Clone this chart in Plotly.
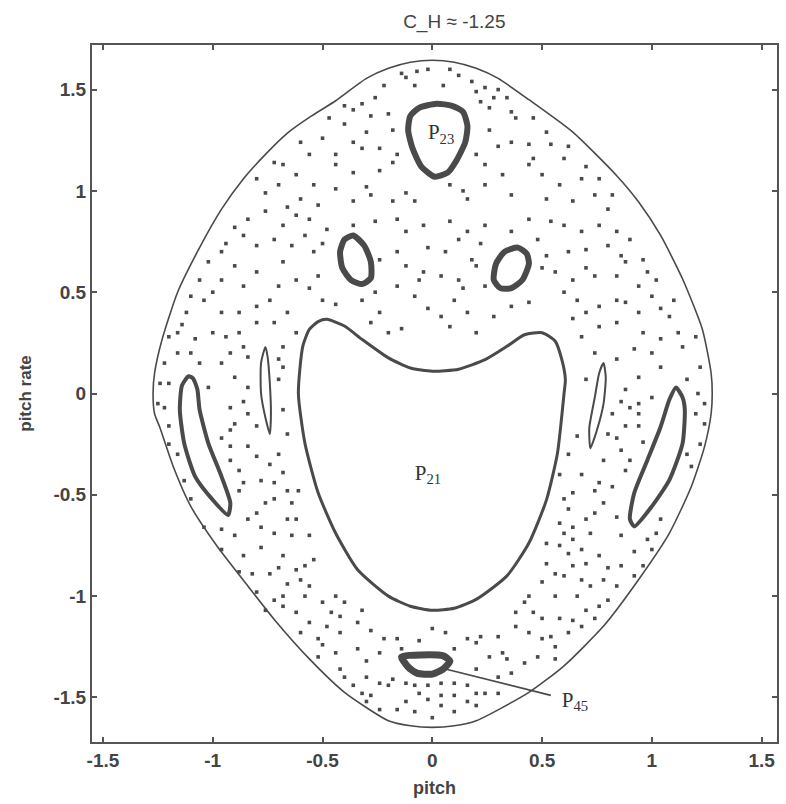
import plotly.graph_objects as go

# ---------------- data (pitch, pitch rate) ----------------
boundary_pitch = [0.0, -0.1, -0.2, -0.3, -0.44, -0.55, -0.66, -0.76, -0.86, -0.96, -1.06, -1.16, -1.23, -1.265,
                  -1.272, -1.265, -1.24, -1.18, -1.10, -0.98, -0.84, -0.72, -0.56, -0.40, -0.20, -0.10, 0.0,
                  0.10, 0.20, 0.44, 0.60, 0.78, 0.94, 1.08, 1.18, 1.24, 1.27, 1.275, 1.27, 1.23, 1.14, 1.04,
                  0.94, 0.84, 0.64, 0.44, 0.30, 0.20, 0.10, 0.0]
boundary_rate = [1.645, 1.635, 1.605, 1.555, 1.445, 1.37, 1.285, 1.18, 1.06, 0.91, 0.72, 0.50, 0.27, 0.10,
                 0.0, -0.10, -0.17, -0.36, -0.557, -0.754, -0.95, -1.115, -1.31, -1.475, -1.615, -1.64, -1.648,
                 -1.64, -1.615, -1.475, -1.344, -1.148, -0.918, -0.689, -0.459, -0.262, -0.10, 0.0, 0.10, 0.317, 0.565, 0.78,
                 0.945, 1.075, 1.29, 1.45, 1.555, 1.605, 1.635, 1.645]

p21_pitch = [0.0, 0.12, 0.24, 0.34, 0.42, 0.50, 0.56, 0.59, 0.606, 0.60, 0.57, 0.52, 0.44, 0.34, 0.20, 0.10,
             0.0, -0.10, -0.20, -0.34, -0.44, -0.52, -0.58, -0.61, -0.59, -0.56, -0.52, -0.48, -0.40, -0.32,
             -0.20, -0.10, 0.0]
p21_rate = [0.11, 0.12, 0.167, 0.233, 0.29, 0.30, 0.258, 0.167, 0.068, 0.0, -0.295, -0.525, -0.738, -0.90,
            -1.016, -1.06, -1.07, -1.05, -1.0, -0.87, -0.69, -0.49, -0.246, 0.0, 0.233, 0.316, 0.355, 0.366,
            0.333, 0.267, 0.176, 0.126, 0.11]

p23_pitch = [0.02, -0.06, -0.10, -0.11, -0.09, -0.05, 0.01, 0.07, 0.11, 0.15, 0.16, 0.14, 0.09, 0.02]
p23_rate = [1.43, 1.41, 1.37, 1.30, 1.21, 1.12, 1.07, 1.09, 1.15, 1.24, 1.32, 1.39, 1.42, 1.43]

isl_ul_pitch = [-0.36, -0.40, -0.42, -0.41, -0.37, -0.32, -0.28, -0.28, -0.31, -0.36]
isl_ul_rate = [0.78, 0.76, 0.70, 0.62, 0.56, 0.54, 0.57, 0.65, 0.73, 0.78]

isl_ur_pitch = [0.39, 0.43, 0.44, 0.41, 0.36, 0.31, 0.28, 0.29, 0.33, 0.39]
isl_ur_rate = [0.72, 0.69, 0.64, 0.56, 0.52, 0.52, 0.56, 0.64, 0.70, 0.72]

isl_l_pitch = [-1.11, -1.14, -1.15, -1.13, -1.08, -1.00, -0.93, -0.92, -0.96, -1.02, -1.06, -1.07, -1.09, -1.11]
isl_l_rate = [0.085, 0.04, -0.08, -0.246, -0.41, -0.525, -0.60, -0.54, -0.41, -0.246, -0.08, 0.02, 0.075, 0.085]

isl_r_pitch = [1.11, 1.14, 1.15, 1.14, 1.08, 1.00, 0.92, 0.90, 0.92, 0.98, 1.04, 1.08, 1.11]
isl_r_rate = [0.03, -0.02, -0.08, -0.246, -0.426, -0.557, -0.656, -0.62, -0.49, -0.328, -0.164, -0.03, 0.03]

thin_l_pitch = [-0.76, -0.78, -0.78, -0.76, -0.74, -0.735, -0.74, -0.75, -0.76]
thin_l_rate = [0.23, 0.15, 0.0, -0.12, -0.20, -0.10, 0.05, 0.18, 0.23]

thin_r_pitch = [0.78, 0.79, 0.78, 0.75, 0.72, 0.715, 0.74, 0.76, 0.78]
thin_r_rate = [0.15, 0.08, -0.05, -0.18, -0.27, -0.17, -0.02, 0.10, 0.15]

p45_pitch = [-0.14, -0.05, 0.05, 0.08, 0.05, 0.0, -0.07, -0.11, -0.14]
p45_rate = [-1.30, -1.29, -1.295, -1.32, -1.36, -1.385, -1.38, -1.35, -1.30]

p45_pointer_pitch = [0.06, 0.54]
p45_pointer_rate = [-1.36, -1.49]

sea_points = [
    (-0.14, 1.58), (-0.12, 1.56), (-0.07, 1.59), (-0.08, 1.52), (0.05, 1.52), (0.12, 1.57), (0.18, 1.54),
    (0.24, 1.51), (0.30, 1.50), (0.20, 1.49), (-0.26, 1.46), (-0.32, 1.43), (-0.36, 1.40), (-0.28, 1.37),
    (-0.20, 1.38), (-0.47, 1.36), (-0.40, 1.33), (-0.36, 1.24), (-0.30, 1.29), (-0.24, 1.21), (-0.32, 1.21),
    (-0.44, 1.18), (-0.56, 1.18), (-0.68, 1.13), (-0.62, 1.08), (-0.70, 1.03), (-0.76, 0.99), (-0.54, 1.03),
    (-0.44, 1.13), (-0.36, 1.09), (-0.18, 1.14), (-0.16, 1.18), (0.20, 1.18), (0.24, 1.13), (0.26, 1.41),
    (0.28, 1.46), (0.36, 1.39), (0.38, 1.36), (0.46, 1.36), (0.52, 1.29), (0.54, 1.23), (0.44, 1.23),
    (0.36, 1.24), (0.60, 1.16), (0.46, 1.16), (0.44, 1.13), (0.68, 1.06), (0.58, 1.03), (0.64, 0.95),
    (0.52, 0.96), (0.36, 0.98), (0.24, 1.03), (0.16, 0.96), (0.08, 1.03), (-0.12, 0.99), (-0.08, 0.95),
    (-0.18, 0.95), (-0.28, 0.98), (-0.44, 1.01), (-0.36, 0.95), (-0.52, 0.93), (-0.56, 0.86), (-0.62, 0.88),
    (-0.68, 0.83), (-0.76, 0.90), (-0.84, 0.86), (-0.86, 0.78), (-0.72, 0.76), (-0.80, 0.73), (-0.64, 0.73),
    (-0.54, 0.70), (-0.48, 0.81), (-0.36, 0.83), (-0.26, 0.85), (-0.16, 0.86), (-0.12, 0.80), (-0.04, 0.83),
    (0.08, 0.85), (0.16, 0.80), (0.24, 0.83), (0.36, 0.80), (0.44, 0.86), (0.54, 0.85), (0.60, 0.83),
    (0.68, 0.80), (0.76, 0.83), (0.80, 0.91), (0.74, 0.98), (0.84, 0.80), (0.90, 0.76), (0.96, 0.66),
    (0.88, 0.65), (0.80, 0.73), (0.70, 0.71), (0.62, 0.70), (0.52, 0.68), (0.56, 0.60), (0.64, 0.56),
    (0.74, 0.58), (0.84, 0.58), (0.94, 0.53), (1.02, 0.56), (1.10, 0.46), (1.04, 0.42), (0.94, 0.40),
    (0.84, 0.46), (0.76, 0.43), (0.66, 0.46), (0.64, 0.37), (0.76, 0.33), (0.84, 0.35), (0.96, 0.30),
    (1.04, 0.27), (1.14, 0.23), (1.20, 0.28), (1.22, 0.13), (1.16, 0.07), (1.04, 0.13), (0.94, 0.08),
    (0.84, 0.17), (0.74, 0.20), (0.70, 0.07), (0.88, 0.02),
    (-0.24, 0.66), (-0.16, 0.70), (-0.12, 0.63), (-0.04, 0.60), (0.04, 0.58), (0.12, 0.56), (0.20, 0.63),
    (0.18, 0.66), (0.24, 0.53), (-0.16, 0.53), (-0.08, 0.48), (-0.26, 0.50), (-0.32, 0.46), (-0.24, 0.40),
    (-0.28, 0.35), (-0.02, 0.42), (0.04, 0.38), (0.10, 0.46), (0.08, 0.33), (0.16, 0.40), (0.28, 0.38),
    (0.36, 0.43), (0.44, 0.45), (-0.14, 0.32),
    (-0.96, 0.70), (-1.02, 0.65), (-1.06, 0.56), (-0.90, 0.63), (-0.96, 0.56), (-0.86, 0.53), (-0.80, 0.60),
    (-0.68, 0.65), (-0.62, 0.56), (-0.52, 0.58), (-0.70, 0.53), (-0.74, 0.46), (-0.80, 0.43), (-0.88, 0.40),
    (-0.96, 0.40), (-1.04, 0.46), (-1.12, 0.40), (-1.16, 0.30), (-1.08, 0.27), (-1.00, 0.30), (-0.88, 0.30),
    (-0.80, 0.35), (-0.72, 0.35), (-0.66, 0.40), (-0.62, 0.30), (-0.68, 0.23), (-0.70, 0.17), (-0.86, 0.23),
    (-0.96, 0.15), (-1.06, 0.15), (-1.16, 0.20), (-1.22, 0.15), (-1.20, 0.05), (-1.02, 0.03), (-0.90, 0.08),
    (-0.84, 0.03), (-0.70, 0.07), (-0.68, 0.13),
    (-1.25, -0.05), (-1.20, -0.25), (-1.22, -0.07), (-0.92, -0.07), (-0.92, -0.18), (-0.90, -0.15),
    (-0.84, -0.10), (-0.80, -0.16), (-0.92, -0.26), (-0.84, -0.26), (-0.80, -0.31), (-0.74, -0.35),
    (-0.92, -0.33), (-0.88, -0.38), (-1.13, -0.43), (-1.10, -0.52), (-1.04, -0.66), (-0.96, -0.67),
    (-0.68, -0.39), (-0.78, -0.43), (-0.72, -0.44), (-0.66, -0.48), (-0.61, -0.48), (-0.64, -0.54),
    (-0.76, -0.54), (-0.72, -0.52), (-0.84, -0.62), (-0.80, -0.59), (-0.78, -0.66), (-0.72, -0.69),
    (-0.64, -0.70), (-0.56, -0.70), (-0.66, -0.62), (-0.68, -0.80), (-0.86, -0.80), (-0.96, -0.77),
    (-0.82, -0.89), (-0.74, -0.89), (-0.62, -0.87), (-0.60, -0.92), (-0.56, -0.95), (-0.54, -0.82),
    (-0.58, -0.85), (-0.68, -1.00), (-0.72, -1.02), (-0.80, -0.98), (-0.76, -1.07), (-0.68, -1.05),
    (-0.58, -1.00), (-0.50, -1.03), (-0.44, -1.00), (-0.40, -1.03), (-0.46, -1.08), (-0.42, -1.10),
    (-0.32, -1.07), (-0.34, -1.13), (-0.56, -1.13), (-0.60, -1.18), (-0.52, -1.21), (-0.48, -1.15),
    (-0.42, -1.18), (-0.28, -1.17), (-0.22, -1.21), (-0.16, -1.21), (-0.34, -1.26), (-0.42, -1.36),
    (-0.52, -1.30),
    (-0.36, -1.44), (-0.32, -1.48), (-0.28, -1.49), (-0.24, -1.43), (-0.20, -1.44), (-0.18, -1.41),
    (-0.12, -1.43), (-0.08, -1.44), (-0.02, -1.44), (0.04, -1.43), (0.10, -1.43), (0.16, -1.44),
    (0.20, -1.48), (0.24, -1.48), (0.10, -1.49), (0.04, -1.49), (-0.02, -1.51), (-0.06, -1.48),
    (-0.16, -1.56), (-0.08, -1.57), (0.04, -1.54), (0.10, -1.57), (0.20, -1.54), (-0.24, -1.56),
    (0.20, -1.36), (0.06, -1.18), (0.16, -1.21), (0.20, -1.23), (0.22, -1.20), (0.32, -1.28),
    (0.34, -1.31), (0.42, -1.33), (0.30, -1.20), (0.38, -1.15), (0.44, -1.18), (0.50, -1.21),
    (0.54, -1.20), (0.56, -1.25), (0.48, -1.30), (0.56, -1.31), (0.62, -1.18), (0.68, -1.15),
    (0.74, -1.11), (0.70, -1.07), (0.66, -1.00), (0.76, -1.05), (0.78, -0.92), (0.72, -0.95),
    (0.68, -0.92), (0.64, -0.85), (0.60, -0.90), (0.56, -0.89), (0.52, -0.84), (0.50, -0.93),
    (0.44, -1.00), (0.42, -1.03), (0.38, -1.08), (0.46, -1.08), (0.50, -1.11), (0.58, -1.11),
    (0.60, -0.52), (0.64, -0.49), (0.62, -0.57), (0.58, -0.64), (0.60, -0.69), (0.64, -0.66),
    (0.70, -0.62), (0.74, -0.59), (0.72, -0.69), (0.64, -0.72), (0.58, -0.75), (0.52, -0.74),
    (0.62, -0.79), (0.68, -0.77), (0.76, -0.80), (0.86, -0.85), (0.92, -0.90), (0.84, -0.95),
    (0.80, -1.02), (0.96, -0.85), (1.00, -0.77), (1.02, -0.69), (0.98, -0.72), (0.84, -0.61),
    (0.78, -0.54), (0.74, -0.48), (0.76, -0.44), (0.88, -0.38), (0.90, -0.33), (0.78, -0.33),
    (0.86, -0.28), (0.66, -0.21), (0.80, -0.20), (0.88, -0.16), (0.94, -0.16), (0.82, -0.10),
    (0.90, -0.07), (0.94, -0.05), (1.00, -0.02), (0.94, -0.10), (1.24, -0.15), (1.22, -0.25),
    (1.16, -0.30), (1.24, -0.05),
    # further dots estimated in the denser parts of the chaotic sea
    (-0.02, 1.60), (0.08, 1.60), (-0.22, 1.52), (0.34, 1.46), (0.22, 1.44), (-0.40, 1.42), (-0.18, 1.30),
    (0.26, 1.30), (0.30, 1.22), (-0.24, 1.10), (0.14, 1.00), (0.32, 1.08), (-0.30, 1.02), (0.50, 1.08),
    (0.62, 1.22), (0.70, 1.12), (-0.60, 1.24), (-0.50, 1.26), (-0.72, 1.14), (-0.80, 1.06), (0.76, 1.06),
    (0.82, 0.98), (-0.60, 0.96), (-0.66, 0.92), (-0.90, 0.82), (-0.94, 0.74), (-0.58, 0.78), (-0.50, 0.74),
    (-0.02, 0.72), (0.06, 0.70), (0.12, 0.76), (0.22, 0.74), (0.48, 0.76), (0.50, 0.62), (0.60, 0.50),
    (0.70, 0.62), (0.86, 0.68), (0.98, 0.60), (1.00, 0.48), (1.08, 0.38), (1.12, 0.30), (0.92, 0.22),
    (1.00, 0.20), (0.68, 0.28), (0.70, 0.40), (0.88, 0.45), (-0.50, 0.46), (-0.44, 0.44), (-0.56, 0.52),
    (-0.20, 0.30), (0.20, 0.30), (0.14, 0.52), (-0.06, 0.56),
    (-1.00, 0.50), (-1.10, 0.48), (-1.14, 0.34), (-1.20, 0.28), (-0.94, 0.28), (-0.84, 0.18), (-0.92, 0.20),
    (-1.10, 0.20), (-1.24, 0.05), (-0.86, -0.04), (-0.96, -0.22), (-0.86, -0.44), (-0.88, -0.48),
    (-1.16, -0.30), (-1.20, -0.16), (-0.70, -0.30), (-0.66, -0.20), (-0.68, -0.08), (-0.62, -0.62),
    (-0.90, -0.70), (-0.78, -0.76), (-0.70, -0.86), (-0.88, -0.88), (-0.66, -0.94),
    (-0.62, -1.08), (-0.50, -1.24), (-0.44, -1.28), (-0.30, -1.32), (-0.24, -1.28), (-0.14, -1.26),
    (-0.06, -1.22), (0.00, -1.16), (0.10, -1.26), (0.26, -1.30), (0.30, -1.40), (0.36, -1.38),
    (-0.40, -1.40), (-0.30, -1.40), (-0.12, -1.52), (0.16, -1.52), (0.00, -1.60), (-0.30, -1.52),
    (0.30, -1.48),
    (0.58, -0.40), (0.62, -0.30), (0.68, -0.40), (0.82, -0.46), (0.86, -0.70), (0.92, -0.78), (0.80, -0.86),
    (0.70, -0.84), (0.56, -1.00), (0.64, -1.12), (1.04, -0.62), (1.18, -0.36), (1.20, -0.10), (1.21, 0.00),
    (0.86, -0.04), (0.84, -0.22), (0.96, -0.24),
]
sea_pitch = [p[0] for p in sea_points]
sea_rate = [p[1] for p in sea_points]

labels_text = ["P<sub>23</sub>", "P<sub>21</sub>", "P<sub>45</sub>"]
labels_pitch = [0.04, -0.02, 0.65]
labels_rate = [1.28, -0.40, -1.52]

x_ticks = [-1.5, -1, -0.5, 0, 0.5, 1, 1.5]
y_ticks = [-1.5, -1, -0.5, 0, 0.5, 1, 1.5]

INK = "#4a4a4a"
TXT = "#444444"

fig = go.Figure()


def curve(xs, ys, width):
    fig.add_trace(go.Scatter(x=xs, y=ys, mode="lines",
                             line=dict(color=INK, width=width, shape="spline", smoothing=0.6),
                             hoverinfo="skip", showlegend=False))


curve(boundary_pitch, boundary_rate, 1.6)
curve(p21_pitch, p21_rate, 3)
curve(p23_pitch, p23_rate, 6)
curve(isl_ul_pitch, isl_ul_rate, 6)
curve(isl_ur_pitch, isl_ur_rate, 6)
curve(isl_l_pitch, isl_l_rate, 4)
curve(isl_r_pitch, isl_r_rate, 4)
curve(thin_l_pitch, thin_l_rate, 2)
curve(thin_r_pitch, thin_r_rate, 2)
curve(p45_pitch, p45_rate, 7)

fig.add_trace(go.Scatter(x=p45_pointer_pitch, y=p45_pointer_rate, mode="lines",
                         line=dict(color=INK, width=1.6), hoverinfo="skip", showlegend=False))

fig.add_trace(go.Scatter(x=sea_pitch, y=sea_rate, mode="markers",
                         marker=dict(symbol="square", size=3.6, color=INK, line=dict(width=0)),
                         hoverinfo="skip", showlegend=False))

fig.add_trace(go.Scatter(x=labels_pitch, y=labels_rate, mode="text", text=labels_text,
                         textfont=dict(family="Liberation Serif", size=21, color="#333333"),
                         hoverinfo="skip", showlegend=False))

axis_common = dict(showline=True, linecolor="#555555", linewidth=2, mirror="ticks", ticks="inside",
                   ticklen=5, tickwidth=1.5, tickcolor="#555555", showgrid=False, zeroline=False,
                   tickfont=dict(family="Liberation Sans", size=19, color=TXT, weight="bold"))

fig.update_xaxes(range=[-1.55, 1.57], tickvals=x_ticks, ticktext=[f"{v:g}" for v in x_ticks],
                 title=dict(text="pitch", font=dict(family="Liberation Sans", size=18, color=TXT, weight="bold"),
                            standoff=12), **axis_common)
fig.update_yaxes(range=[-1.72, 1.72], tickvals=y_ticks, ticktext=[f"{v:g}" for v in y_ticks],
                 title=dict(text="pitch rate", font=dict(family="Liberation Sans", size=17, color=TXT, weight="bold"),
                            standoff=18), **axis_common)

fig.update_layout(
    width=786, height=804,
    margin=dict(l=92, r=7, t=45, b=62),
    paper_bgcolor="white", plot_bgcolor="white",
    title=dict(text="C_H ≈ -1.25", x=0.578, xanchor="center", y=0.973, yanchor="middle",
               font=dict(family="Liberation Sans", size=19, color=TXT)),
)

fig.write_html("out.html")
